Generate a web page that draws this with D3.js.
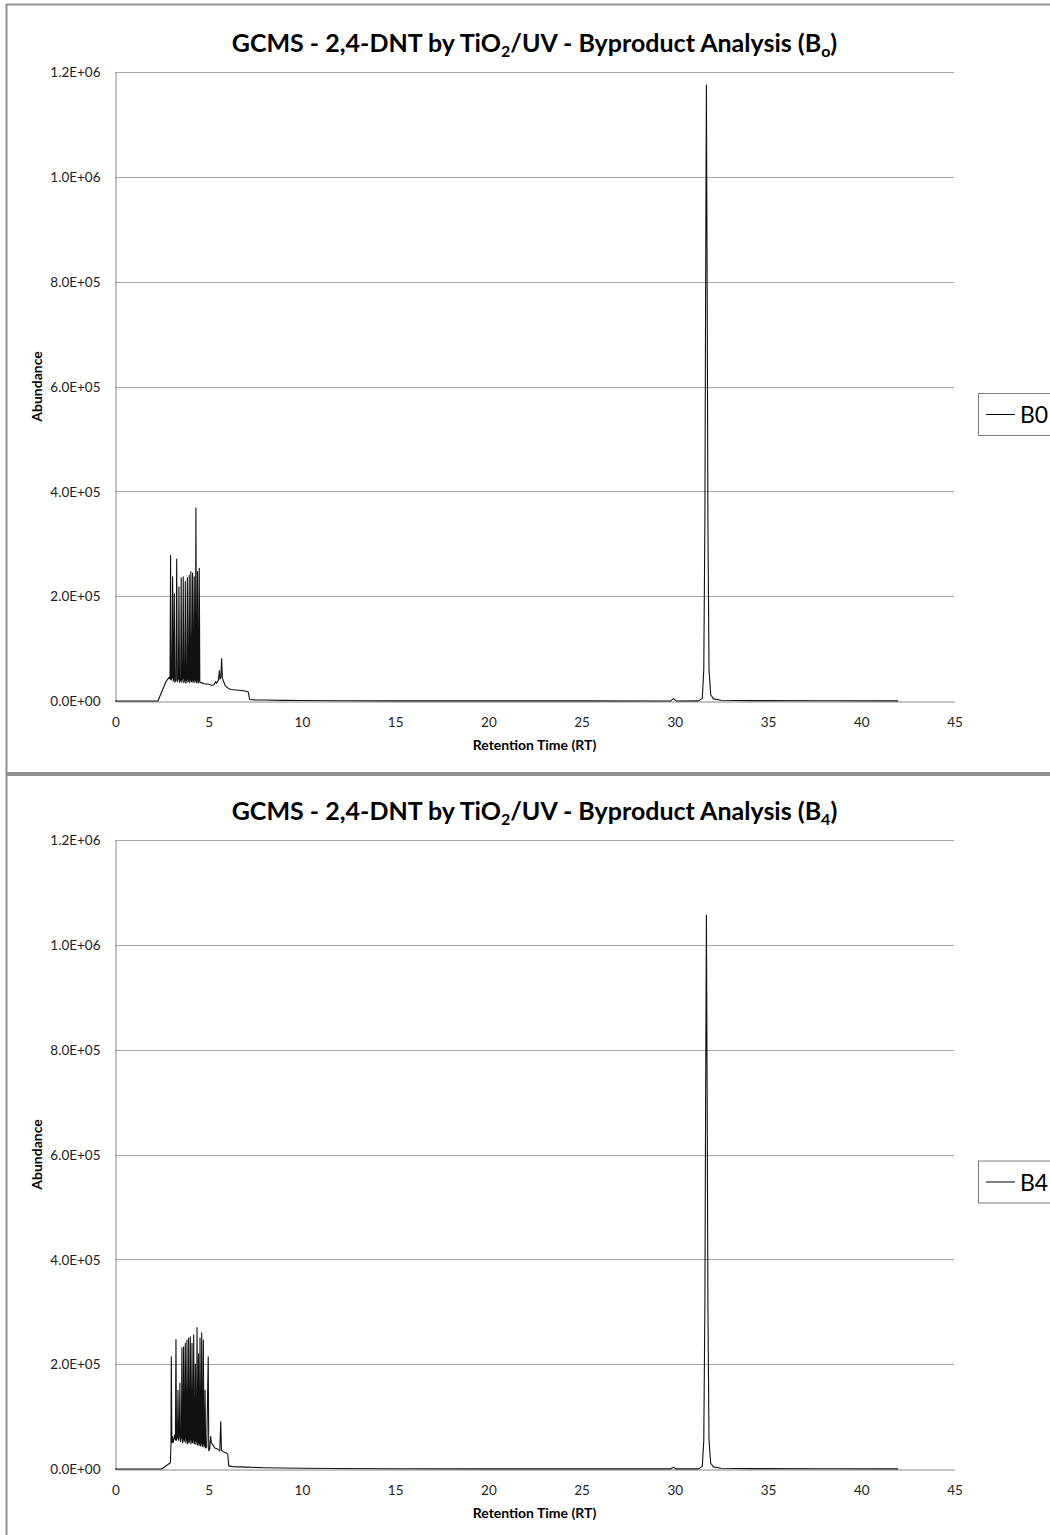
<!DOCTYPE html>
<html>
<head>
<meta charset="utf-8">
<script src="https://cdn.jsdelivr.net/npm/d3@7"></script>
<style>
  html, body { margin: 0; padding: 0; background: #fff; }
  svg { display: block; }
</style>
</head>
<body>
<svg id="chart" width="1050" height="1535"></svg>
<script>
// ---------------- DATA ----------------
const xTicks = [0, 5, 10, 15, 20, 25, 30, 35, 40, 45];
const yTicks = [0, 200000, 400000, 600000, 800000, 1000000, 1200000];
const xTitle = "Retention Time (RT)";
const yTitle = "Abundance";
const seriesNames = ["B0", "B4"];
const titleSubs = ["o", "4"];

// [retention time, abundance]
const b0Points = [
  [0,0],[2.3,0],[2.75,38000],[2.9,45000],
  [2.95,42000],[2.98,278000],[3.01,40000],
  [3.06,45000],[3.09,237000],[3.12,38000],
  [3.15,42000],[3.18,205000],[3.21,36000],
  [3.27,40000],[3.31,271000],[3.34,37000],
  [3.40,43000],[3.43,218000],[3.46,35000],
  [3.52,41000],[3.55,235000],[3.58,36000],
  [3.63,44000],[3.66,237000],[3.69,35000],
  [3.74,40000],[3.77,228000],[3.80,34000],
  [3.85,42000],[3.88,235000],[3.91,36000],
  [3.95,40000],[3.98,240000],[4.01,35000],
  [4.05,43000],[4.07,247000],[4.10,37000],
  [4.14,40000],[4.16,244000],[4.19,35000],
  [4.22,41000],[4.25,237000],[4.28,36000],
  [4.31,39000],[4.34,368000],[4.37,35000],
  [4.40,40000],[4.43,247000],[4.46,34000],
  [4.49,38000],[4.52,253000],[4.55,36000],
  [4.6,35000],[4.8,33000],[5.0,32000],[5.2,30000],[5.3,31000],[5.4,37000],
  [5.45,34000],[5.55,40000],[5.6,58000],[5.63,42000],[5.68,45000],[5.72,81000],
  [5.76,44000],[5.82,38000],[5.9,30000],[6.0,26000],[6.2,22000],[6.5,21000],
  [6.8,20000],[7.1,18000],[7.15,17000],[7.22,3000],[7.5,2200],[8,1800],[9,1200],
  [10,900],[12,500],[15,300],[20,200],[25,150],[29.8,100],[29.95,4500],[30.1,100],
  [31.3,200],[31.5,5000],[31.58,60000],[31.64,350000],[31.68,800000],[31.72,1175000],
  [31.76,800000],[31.8,350000],[31.86,60000],[31.95,12000],[32.1,4000],[32.5,1500],
  [34,800],[38,400],[42,300]
];

// [retention time, abundance]
const b4Points = [
  [0,0],[2.5,0],[2.97,12000],[3.0,45000],[3.02,214000],[3.05,50000],
  [3.08,62000],[3.12,50000],[3.16,58000],[3.2,65000],[3.24,55000],[3.27,247000],[3.30,55000],
  [3.35,60000],[3.38,150000],[3.41,55000],
  [3.45,62000],[3.48,164000],[3.51,52000],
  [3.56,60000],[3.59,231000],[3.62,50000],
  [3.65,58000],[3.68,233000],[3.71,52000],
  [3.74,60000],[3.77,240000],[3.80,50000],
  [3.83,56000],[3.86,246000],[3.89,48000],
  [3.92,55000],[3.95,250000],[3.98,50000],
  [4.01,57000],[4.04,252000],[4.07,48000],
  [4.10,55000],[4.13,240000],[4.16,50000],
  [4.19,56000],[4.22,256000],[4.25,48000],
  [4.28,54000],[4.31,200000],[4.34,47000],
  [4.37,55000],[4.40,270000],[4.43,46000],
  [4.46,52000],[4.48,220000],[4.51,45000],
  [4.54,50000],[4.56,250000],[4.59,44000],
  [4.62,50000],[4.65,260000],[4.68,43000],
  [4.71,48000],[4.74,246000],[4.77,42000],
  [4.80,46000],[4.83,150000],[4.86,40000],
  [4.92,42000],[5.0,214000],[5.03,35000],
  [5.08,38000],[5.13,62000],[5.17,50000],[5.25,46000],[5.35,40000],[5.5,38000],
  [5.62,35000],[5.67,90000],[5.71,36000],[5.8,33000],[5.95,31000],[6.05,28000],
  [6.1,6000],[6.3,4500],[7,3500],[8,2500],[10,1500],[12,900],[15,500],[20,300],
  [25,200],[29.8,150],[29.95,3500],[30.1,150],
  [31.3,200],[31.5,5000],[31.58,55000],[31.64,320000],[31.68,720000],[31.72,1057000],
  [31.76,720000],[31.8,320000],[31.86,55000],[31.95,11000],[32.1,4000],[32.5,1500],
  [34,800],[38,400],[42,300]
];

const seriesData = [b0Points, b4Points];

// ---------------- LAYOUT ----------------
const svg = d3.select("#chart");
const FONT = "Lato, 'Open Sans', sans-serif";
const panelH = 768;
const plot = { left: 115, right: 954, top: 72, bottom: 701 };

const x = d3.scaleLinear().domain([0, 45]).range([plot.left, plot.right]);
const y = d3.scaleLinear().domain([0, 1200000]).range([plot.bottom, plot.top]);
const fmt = v => {
  const e = v === 0 ? 0 : Math.floor(Math.log10(v));
  const m = v === 0 ? 0 : v / Math.pow(10, e);
  return m.toFixed(1) + "E+" + String(e).padStart(2, "0");
};

seriesData.forEach((pts, i) => {
  const g = svg.append("g").attr("transform", `translate(0,${i * panelH})`);

  // chart frame
  g.append("rect")
    .attr("x", 6.5).attr("y", i === 0 ? 4.5 : 7)
    .attr("width", 1100).attr("height", i === 0 ? 768.5 : 800)
    .attr("fill", "#fff").attr("stroke", "#8f8f8f").attr("stroke-width", 2);

  // title
  const t = g.append("text")
    .attr("x", (plot.left + plot.right) / 2).attr("y", 52)
    .attr("text-anchor", "middle")
    .attr("font-family", FONT).attr("font-weight", "bold").attr("font-size", 25)
    .attr("fill", "#000");
  t.append("tspan").text("GCMS - 2,4-DNT by TiO");
  t.append("tspan").attr("dy", 5).attr("font-size", 16).text("2");
  t.append("tspan").attr("dy", -5).text("/UV - Byproduct Analysis (B");
  t.append("tspan").attr("dy", 5).attr("font-size", 16).text(titleSubs[i]);
  t.append("tspan").attr("dy", -5).text(")");

  // gridlines
  g.append("g").selectAll("line")
    .data(yTicks.filter(d => d > 0))
    .join("line")
    .attr("x1", plot.left).attr("x2", plot.right)
    .attr("y1", d => Math.round(y(d)) + 0.5).attr("y2", d => Math.round(y(d)) + 0.5)
    .attr("stroke", "#a6a6a6").attr("stroke-width", 1);

  // y axis
  const yAxis = g.append("g")
    .attr("transform", `translate(${plot.left + 0.5},0.5)`)
    .call(d3.axisLeft(y).tickValues(yTicks).tickFormat(fmt).tickSize(0).tickPadding(15));
  yAxis.select(".domain").attr("stroke", "#888");
  yAxis.selectAll("text").attr("font-family", FONT).attr("font-size", 13.5).attr("fill", "#222");

  // x axis
  const xAxis = g.append("g")
    .attr("transform", `translate(0.5,${plot.bottom + 0.5})`)
    .call(d3.axisBottom(x).tickValues(xTicks).tickFormat(d3.format("d")).tickSize(0).tickPadding(16));
  xAxis.select(".domain").attr("stroke", "#888");
  xAxis.selectAll("text").attr("font-family", FONT).attr("font-size", 13.5).attr("fill", "#222");

  // axis titles
  g.append("text")
    .attr("x", (plot.left + plot.right) / 2).attr("y", 750)
    .attr("text-anchor", "middle")
    .attr("font-family", FONT).attr("font-weight", "bold").attr("font-size", 14)
    .text(xTitle);
  g.append("text")
    .attr("transform", `translate(42,${(plot.top + plot.bottom) / 2}) rotate(-90)`)
    .attr("text-anchor", "middle")
    .attr("font-family", FONT).attr("font-weight", "bold").attr("font-size", 14)
    .text(yTitle);

  // series line
  const line = d3.line().x(d => x(d[0])).y(d => y(d[1]));
  g.append("path")
    .datum(pts)
    .attr("d", line)
    .attr("fill", "none").attr("stroke", "#111").attr("stroke-width", 1.1)
    .attr("stroke-linejoin", "round");

  // legend
  const ly = i === 0 ? 393.5 : 393.5 + (1161 - 393.5 - panelH);
  const lg = g.append("g");
  lg.append("rect")
    .attr("x", 978.5).attr("y", ly).attr("width", 120).attr("height", 42)
    .attr("fill", "#fff").attr("stroke", "#7f7f7f").attr("stroke-width", 1);
  lg.append("line")
    .attr("x1", 986).attr("x2", 1015).attr("y1", ly + 21).attr("y2", ly + 21)
    .attr("stroke", "#000").attr("stroke-width", 1);
  lg.append("text")
    .attr("x", 1020).attr("y", ly + 29.5)
    .attr("font-family", FONT).attr("font-size", 23).attr("fill", "#000")
    .text(seriesNames[i]);
});
</script>
</body>
</html>
